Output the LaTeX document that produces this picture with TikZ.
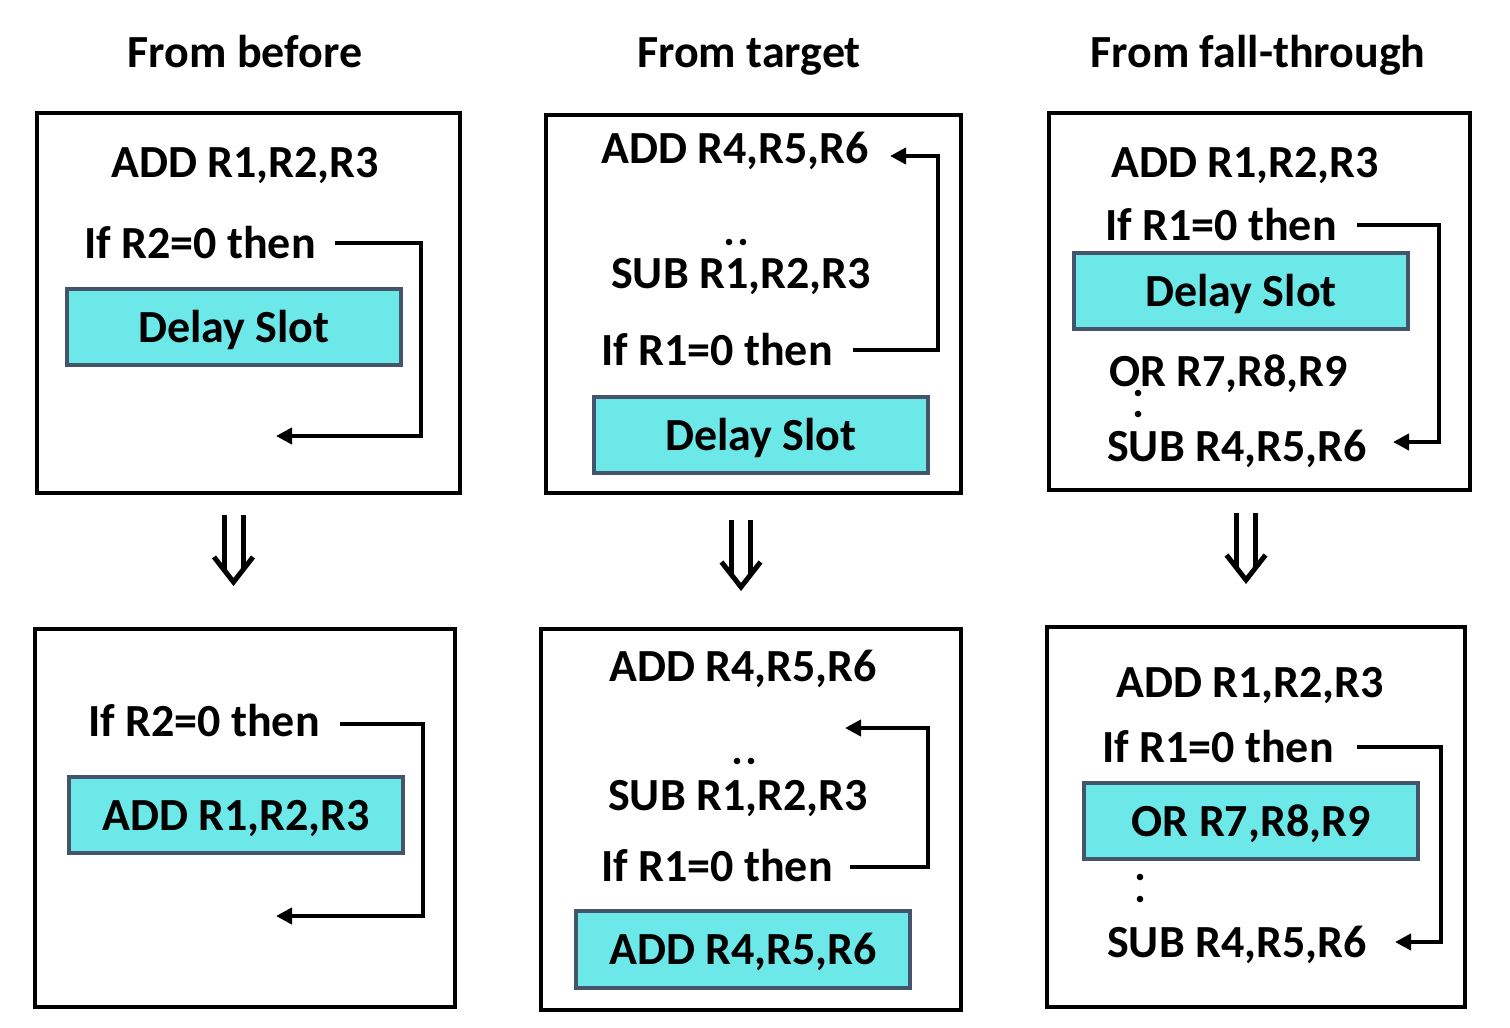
\documentclass[tikz,border=0pt]{standalone}
\usepackage{fontspec}
\setmainfont{Carlito}
\usetikzlibrary{arrows.meta,calc}
\definecolor{slotcyan}{HTML}{6DE8E8}
\definecolor{slotline}{HTML}{44546A}
\tikzset{
  txt/.style={inner sep=0pt, anchor=base west, font=\fontsize{46}{50}\selectfont\bfseries},
  ttl/.style={inner sep=0pt, anchor=base, font=\fontsize{46}{50}\selectfont\bfseries},
  frame/.style={draw, line width=4pt, inner sep=0pt},
  slot/.style={draw=slotline, fill=slotcyan, line width=4pt, inner sep=0pt,
    text height=34pt, text depth=4pt,
    minimum width=334pt, minimum height=76pt, font=\fontsize{46}{50}\selectfont\bfseries},
  conn/.style={line width=4pt, -{Triangle[length=16pt,width=16pt]}},
  dbl/.style={line width=5pt},
  dblarrow/.pic={
    \draw[dbl] (-9.5,0) -- (-9.5,55) (9.5,0) -- (9.5,55);
    \draw[dbl, line join=miter] (-19.5,42) -- (0,67) -- (19.5,42);
  }
}
\begin{document}
\begin{tikzpicture}[x=1pt,y=-1pt]
\useasboundingbox (0,0) rectangle (1510,1028);

% titles
\node[ttl] (t1) at (245,67) {From before};
\node[ttl] (t2) at (749,67) {From target};
\node[ttl] (t3) at (1258,67) {From fall-through};

% frames
\node[frame, minimum width=423pt, minimum height=380pt] (f1) at (248.5,303) {};
\node[frame, minimum width=415pt, minimum height=378pt] (f2) at (753.5,304) {};
\node[frame, minimum width=421pt, minimum height=377pt] (f3) at (1259.5,301.5) {};
\node[frame, minimum width=420pt, minimum height=378pt] (f4) at (245,818) {};
\node[frame, minimum width=420pt, minimum height=381pt] (f5) at (751,819.5) {};
\node[frame, minimum width=418pt, minimum height=380pt] (f6) at (1256,817) {};

% double arrows
\pic (d1) at (233.5,515) {dblarrow};
\pic (d2) at (741,520) {dblarrow};
\pic (d3) at (1246,513) {dblarrow};

% ---- box 1
\node[txt] (add1) at (111,177) {ADD R1,R2,R3};
\node[txt] (if1) at (84,258) {If R2=0 then};
\node[slot] (s1) at (234,327) {Delay Slot};
\coordinate (c1a) at (335,243);
\coordinate (c1e) at (276,436);
\draw[conn] (c1a) -- ++(86,0) |- (c1e);

% ---- box 2
\node[txt] (add2) at (601,163) {ADD R4,R5,R6};
\node[txt] (sub2) at (611,288) {SUB R1,R2,R3};
\node[txt] (if2) at (601,365) {If R1=0 then};
\node[slot] (s2) at (761,435) {Delay Slot};
\fill (729,242) circle (3.3) (743,242) circle (3.3);
\coordinate (c2a) at (853,350);
\coordinate (c2e) at (890,156);
\draw[conn] (c2a) -- ++(85,0) |- (c2e);

% ---- box 3
\node[txt] (add3) at (1111,177) {ADD R1,R2,R3};
\node[txt] (if3) at (1105,240) {If R1=0 then};
\node[slot] (s3) at (1241,291) {Delay Slot};
\node[txt] (or3) at (1109,386) {OR R7,R8,R9};
\node[txt] (sub3) at (1107,461) {SUB R4,R5,R6};
\fill (1138,393) circle (3.3) (1138,414) circle (3.3);
\coordinate (c3a) at (1357,225);
\coordinate (c3e) at (1393,442);
\draw[conn] (c3a) -- ++(82,0) |- (c3e);

% ---- box 4
\node[txt] (if4) at (88,736) {If R2=0 then};
\node[slot] (s4) at (236,815) {ADD R1,R2,R3};
\coordinate (c4a) at (340,724);
\coordinate (c4e) at (276,916);
\draw[conn] (c4a) -- ++(83,0) |- (c4e);

% ---- box 5
\node[txt] (add5) at (609,681) {ADD R4,R5,R6};
\node[txt] (sub5) at (608,810) {SUB R1,R2,R3};
\node[txt] (if5) at (601,881) {If R1=0 then};
\node[slot, minimum height=77pt] (s5) at (743,949.5) {ADD R4,R5,R6};
\fill (737,761) circle (3.3) (751,761) circle (3.3);
\coordinate (c5a) at (850,867);
\coordinate (c5e) at (845,728);
\draw[conn] (c5a) -- ++(78,0) |- (c5e);

% ---- box 6
\node[txt] (add6) at (1116,697) {ADD R1,R2,R3};
\node[txt] (if6) at (1102,762) {If R1=0 then};
\node[slot] (s6) at (1251,821) {OR R7,R8,R9};
\node[txt] (sub6) at (1107,957) {SUB R4,R5,R6};
\fill (1140,877) circle (3.3) (1140,899) circle (3.3);
\coordinate (c6a) at (1357,747);
\coordinate (c6e) at (1395,942);
\draw[conn] (c6a) -- ++(84,0) |- (c6e);
\end{tikzpicture}
\end{document}
